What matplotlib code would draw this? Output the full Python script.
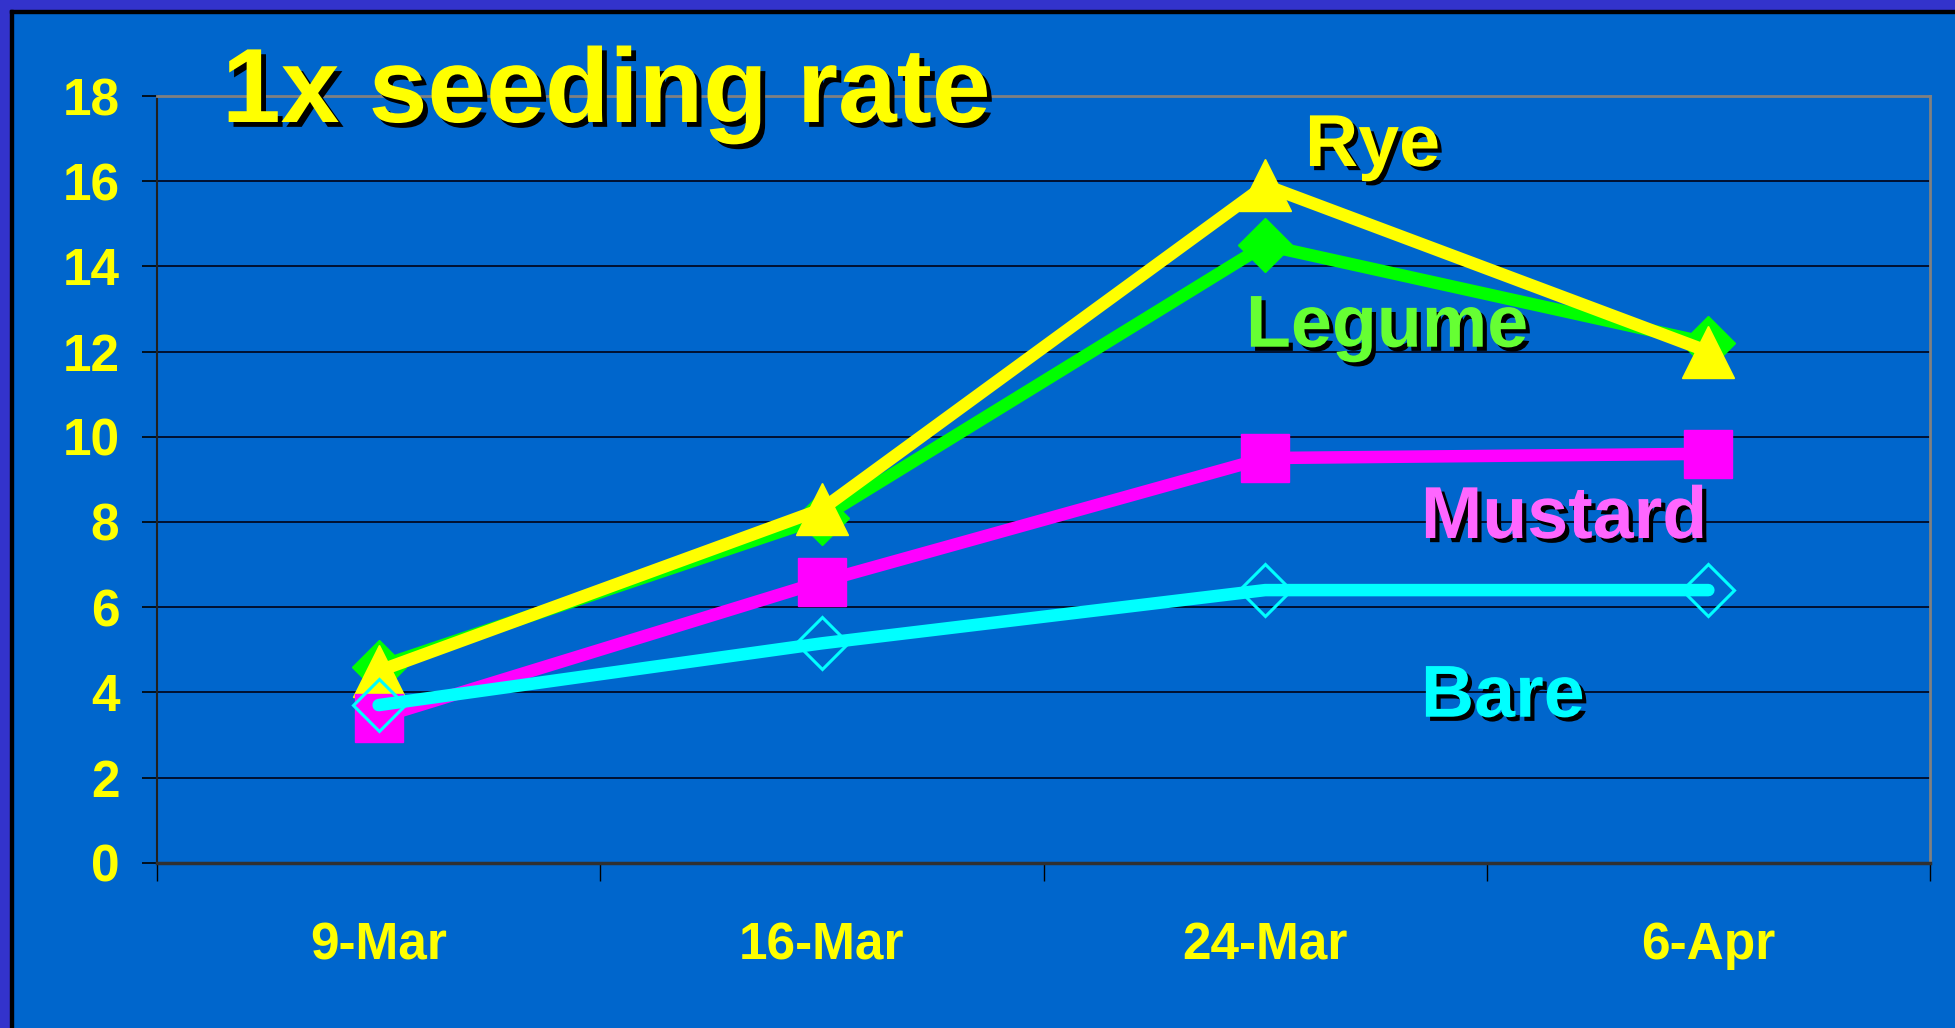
#!/usr/bin/env python

import numpy as np
import matplotlib
matplotlib.use("Agg")
import matplotlib.pyplot as plt
import matplotlib.patheffects as pe
from matplotlib.patches import Rectangle

# chart data
dates = ["9-Mar", "16-Mar", "24-Mar", "6-Apr"]
legume = [4.6, 8.1, 14.5, 12.2]
rye = [4.5, 8.3, 15.9, 12.0]
mustard = [3.4, 6.6, 9.5, 9.6]
bare = [3.7, 5.15, 6.4, 6.4]
yticks = [0, 2, 4, 6, 8, 10, 12, 14, 16, 18]

BG = "#0066CC"
FRAME = "#3333CC"
FONT = ["Liberation Sans", "DejaVu Sans"]


def shadow(off=3):
    return [pe.SimplePatchShadow(offset=(off, -off), shadow_rgbFace="black", alpha=1.0),
            pe.Normal()]


def draw_chart():
    plt.rcParams["font.family"] = FONT
    plt.rcParams["font.weight"] = "bold"

    fig = plt.figure(figsize=(19.55, 10.28), dpi=100, facecolor=BG)

    # slide border on the left and top
    W, H = 1955.0, 1028.0
    fig.patches.append(Rectangle((0, 0), 10 / W, 1, transform=fig.transFigure,
                                 color=FRAME, zorder=0))
    fig.patches.append(Rectangle((0, 1 - 10 / H), 1, 10 / H, transform=fig.transFigure,
                                 color=FRAME, zorder=0))
    fig.patches.append(Rectangle((10 / W, 0), 2.5 / W, 1 - 10 / H, transform=fig.transFigure,
                                 color="black", zorder=0))
    fig.patches.append(Rectangle((10 / W, 1 - 12.5 / H), 1 - 10 / W, 2.5 / H,
                                 transform=fig.transFigure, color="black", zorder=0))

    ax = fig.add_axes([157 / W, 1 - 862.7 / H, (1930 - 157) / W, (862.7 - 96) / H])
    ax.set_facecolor(BG)

    x = np.arange(len(dates))
    common = dict(lw=9, solid_capstyle="round", solid_joinstyle="round", zorder=3)
    ax.plot(x, legume, color="#00FF00", marker="D", ms=27, mec="#00FF00", **common)
    ax.plot(x, rye, color="#FFFF00", marker="^", ms=37, mec="#FFFF00", **common)
    ax.plot(x, mustard, color="#FF00FF", marker="s", ms=34, mec="#FF00FF", **common)
    ax.plot(x, bare, color="#00FFFF", marker="D", ms=26, mfc="none", mec="#00FFFF",
            mew=2.2, **common)

    ax.set_xlim(-0.5, len(dates) - 0.5)
    ax.set_ylim(0, 18)

    # gridlines
    ax.set_yticks(yticks)
    ax.yaxis.grid(True, color="#001030", lw=1.4)
    ax.set_axisbelow(True)

    ax.tick_params(axis="y", direction="out", length=11, width=1.2, color="black",
                   labelsize=37, labelcolor="#FFFF00", pad=16)
    for lab in ax.get_yticklabels():
        lab.set_fontweight("bold")

    # category boundaries as major ticks, labels on minor ticks
    ax.set_xticks(np.arange(-0.5, len(dates), 1.0))
    ax.set_xticklabels([])
    ax.set_xticks(x, minor=True)
    ax.set_xticklabels(dates, minor=True, fontsize=37, color="#FFFF00", fontweight="bold")
    ax.tick_params(axis="x", which="major", direction="out", length=13, width=1, color="black")
    ax.tick_params(axis="x", which="minor", length=0, pad=42)

    for side in ["top", "right"]:
        ax.spines[side].set_color("#808080")
        ax.spines[side].set_linewidth(2)
    ax.spines["left"].set_color("#202020")
    ax.spines["left"].set_linewidth(1.5)
    ax.spines["bottom"].set_color("#303030")
    ax.spines["bottom"].set_linewidth(2.5)

    # series labels
    labels = [("Rye", "#FFFF00", 0.6475, 0.9087),
              ("Legume", "#66FF33", 0.6142, 0.6730),
              ("Mustard", "#FF66FF", 0.7129, 0.4235),
              ("Bare", "#00FFFF", 0.7129, 0.1904)]
    for txt, col, tx, ty in labels:
        ax.text(tx, ty, txt, transform=ax.transAxes, color=col, fontsize=53,
                fontweight="bold", ha="left", va="baseline", zorder=5,
                path_effects=shadow(3))

    fig.text(222 / W, 1 - 122 / H, "1x seeding rate", color="#FFFF00", fontsize=76,
             fontweight="bold", ha="left", va="baseline", zorder=10,
             path_effects=shadow(3.5))

    fig.savefig("out.png", dpi=100, facecolor=BG)


if __name__ == '__main__':
    draw_chart()
